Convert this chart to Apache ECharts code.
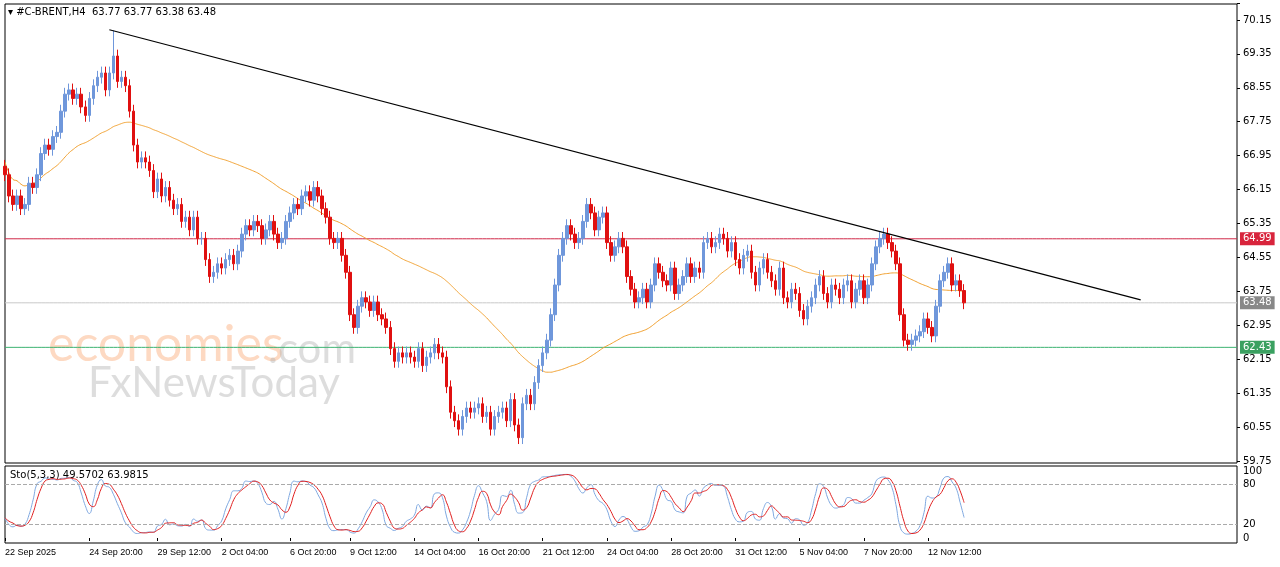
<!DOCTYPE html>
<html>
<head>
<meta charset="utf-8">
<script src="https://cdn.jsdelivr.net/npm/echarts@6/dist/echarts.min.js"></script>
<style>
html,body{margin:0;padding:0;background:#fff;}
#chart{width:1280px;height:567px;}
</style>
</head>
<body>
<div id="chart"></div>
<script>
// closes per H4 bar
var closes = [
  66.5,66.0,65.8,66.0,65.7,65.8,66.3,66.2,66.5,67.0,
  67.2,67.1,67.4,67.5,68.0,68.4,68.5,68.3,68.4,68.1,
  67.9,68.3,68.6,68.8,68.9,68.5,68.9,69.3,68.7,68.8,
  68.6,68.0,67.2,66.8,66.9,66.8,66.6,66.1,66.4,66.0,
  66.2,65.9,65.7,65.8,65.4,65.5,65.2,65.5,65.0,65.0,
  64.5,64.1,64.2,64.4,64.3,64.5,64.6,64.4,64.7,65.1,
  65.3,65.2,65.4,65.3,65.0,65.2,65.4,65.1,64.9,65.0,
  65.4,65.6,65.8,65.7,66.0,66.1,65.9,66.2,66.0,65.7,
  65.5,65.0,64.9,65.0,64.6,64.2,63.2,62.9,63.4,63.6,
  63.5,63.3,63.5,63.2,63.1,62.9,62.4,62.1,62.3,62.2,
  62.3,62.2,62.1,62.4,62.0,62.2,62.3,62.5,62.3,62.2,
  61.5,60.9,60.7,60.5,60.8,61.0,60.9,61.0,61.1,60.8,
  60.9,60.5,60.8,60.9,61.0,60.7,61.2,60.6,60.3,61.1,
  61.3,61.1,61.6,62.0,62.3,62.6,63.2,63.9,64.6,65.0,
  65.3,65.1,64.9,65.0,65.4,65.8,65.6,65.2,65.5,65.6,
  64.9,64.6,64.8,65.0,64.8,64.1,63.8,63.5,63.6,63.8,
  63.5,63.9,64.4,64.2,64.0,63.9,64.3,63.7,63.9,64.1,
  64.4,64.1,64.3,64.2,64.9,65.0,64.8,64.9,65.1,65.0,
  64.7,64.9,64.5,64.3,64.6,64.7,64.2,63.9,64.3,64.5,
  64.2,64.0,63.8,64.3,63.6,63.5,63.8,63.7,63.3,63.1,
  63.4,63.6,63.9,64.1,63.7,63.5,63.9,63.8,63.6,63.9,
  64.0,63.5,63.8,64.0,63.6,63.9,64.4,64.8,65.0,65.1,
  64.9,64.7,64.4,63.2,62.6,62.5,62.6,62.7,62.8,63.1,
  62.9,62.7,63.4,64.0,64.2,64.4,63.9,64.0,63.77,63.48
];
var firstOpen = 66.7;
var wick = 0.15;
var totalBars = 308;
var dateLabels = {0:'22 Sep 2025',21:'24 Sep 20:00',38:'29 Sep 12:00',54:'2 Oct 04:00',71:'6 Oct 20:00',
  86:'9 Oct 12:00',102:'14 Oct 04:00',118:'16 Oct 20:00',134:'21 Oct 12:00',150:'24 Oct 04:00',
  166:'28 Oct 20:00',182:'31 Oct 12:00',198:'5 Nov 04:00',214:'7 Nov 20:00',230:'12 Nov 12:00'};
var priceTicks = {min:59.75, max:70.55, step:0.8};
var levels = {resist:64.99, support:62.43, last:63.48};
var trendLine = [[26,69.92],[283,63.55]];

var cats = [], candles = [], ma = [], highs = [], lows = [];
for (var i = 0; i < totalBars; i++) cats.push(dateLabels[i] || '');
for (var i = 0; i < closes.length; i++) {
  var o = i === 0 ? firstOpen : closes[i-1], c = closes[i];
  var h = Math.max(o,c) + wick, l = Math.min(o,c) - wick;
  if (i === 27) h = 69.9;
  highs.push(h); lows.push(l);
  candles.push([o,c,l,h]);
  var s = Math.max(0,i-49), sum = 0;
  for (var j = s; j <= i; j++) sum += closes[j];
  ma.push(+(sum/(i-s+1) + (i < 50 ? 0.3*(50-i)/50 : 0)).toFixed(3));
}
// stochastic 5,3,3
var rawK = [], k = [], d = [];
for (var i = 0; i < closes.length; i++) {
  var s = Math.max(0,i-4), hh = -1e9, ll = 1e9;
  for (var j = s; j <= i; j++) { hh = Math.max(hh,highs[j]); ll = Math.min(ll,lows[j]); }
  rawK.push({num: closes[i]-ll, den: hh-ll});
}
for (var i = 0; i < closes.length; i++) {
  var n = 0, dd = 0;
  for (var j = Math.max(0,i-2); j <= i; j++) { n += rawK[j].num; dd += rawK[j].den; }
  k.push(dd ? +(100*n/dd).toFixed(2) : 50);
}
for (var i = 0; i < k.length; i++) {
  var sm = 0, cnt = 0;
  for (var j = Math.max(0,i-2); j <= i; j++) { sm += k[j]; cnt++; }
  d.push(+(sm/cnt).toFixed(2));
}

var chart = echarts.init(document.getElementById('chart'));
var font = 'DejaVu Sans';

// horizontal level: a flat line across every category plus a price tag on the axis
function levelSeries(val, color, bg) {
  var flat = [];
  for (var i = 0; i < totalBars; i++) flat.push(val);
  return {type:'line', xAxisIndex:0, yAxisIndex:0, data:flat, showSymbol:false, silent:true,
    lineStyle:{color:color, width:1}, z:1,
    markPoint:{symbol:'rect', symbolSize:0, silent:true,
      label:{show:true, position:'right', distance:3, formatter: val.toFixed(2), color:'#fff', backgroundColor:bg,
        padding:[2,3,1,3], fontSize:10, fontFamily:font},
      data:[{coord:[totalBars-1, val]}]}};
}

chart.setOption({
  animation:false,
  textStyle:{fontFamily:font},
  graphic:[
    {type:'text', left:8, top:7, style:{text:'▾ #C-BRENT,H4  63.77 63.77 63.38 63.48', font:'10px DejaVu Sans', fill:'#000'}},
    {type:'text', left:10, top:470, style:{text:'Sto(5,3,3) 49.5702 63.9815', font:'10px DejaVu Sans', fill:'#000'}},
    {type:'text', left:48, top:320, z:-1, style:{text:'economies', font:'50px Lato', fill:'rgba(250,170,120,0.45)'}},
    {type:'text', left:268, top:328, z:-1, style:{text:'.com', font:'42px Lato', fill:'rgba(180,180,180,0.45)'}},
    {type:'text', left:88, top:362, z:-1, style:{text:'FxNewsToday', font:'42px Lato', fill:'rgba(170,170,170,0.4)'}},
    {type:'rect', shape:{x:5,y:4,width:1232,height:459}, style:{fill:'none', stroke:'#000', lineWidth:1}},
    {type:'rect', shape:{x:5,y:466,width:1232,height:77}, style:{fill:'none', stroke:'#000', lineWidth:1}}
  ],
  grid:[
    {left:5, right:43, top:3, bottom:106},
    {left:5, right:43, top:471, bottom:29}
  ],
  xAxis:[
    {type:'category', data:cats, gridIndex:0, boundaryGap:false, axisLine:{show:false}, axisTick:{show:false}, axisLabel:{show:false}},
    {type:'category', data:cats, gridIndex:1, boundaryGap:false, axisLine:{show:false},
      axisTick:{show:true, interval:function(i,v){return v!=='';}, length:3, lineStyle:{color:'#000'}},
      axisLabel:{interval:0, color:'#000', fontSize:9, align:'left', margin:10, fontFamily:'Liberation Sans'}}
  ],
  yAxis:[
    {type:'value', gridIndex:0, position:'right', min:priceTicks.min, max:priceTicks.max, interval:priceTicks.step,
      splitLine:{show:false}, axisLine:{show:false}, axisTick:{show:true, length:3, lineStyle:{color:'#000'}},
      axisLabel:{color:'#000', fontSize:10, margin:6, formatter:function(v){return v>70.2?'':v.toFixed(2);}}},
    {type:'value', gridIndex:1, position:'right', min:0, max:100, interval:20,
      splitLine:{show:false}, axisLine:{show:false}, axisTick:{show:false},
      axisLabel:{color:'#000', fontSize:10, margin:6, formatter:function(v){return (v===0||v===20||v===80||v===100)?v:'';}}}
  ],
  series:[
    levelSeries(levels.resist,'#d02848','#d8243c'),
    levelSeries(levels.support,'#3cb371','#3aa060'),
    levelSeries(levels.last,'#c8c8c8','#888'),
    {type:'candlestick', xAxisIndex:0, yAxisIndex:0, data:candles, barWidth:3, z:3,
      itemStyle:{color:'#6f97db', color0:'#e01010', borderColor:'#6f97db', borderColor0:'#e01010', borderWidth:1},
      markLine:{symbol:'none', silent:true, lineStyle:{color:'#000', width:1.2, type:'solid'}, label:{show:false},
        data:[[{coord:trendLine[0]}, {coord:trendLine[1]}]]}},
    {type:'line', xAxisIndex:0, yAxisIndex:0, data:ma, showSymbol:false, smooth:true, z:2, lineStyle:{color:'#f0a030', width:1}},
    {type:'line', xAxisIndex:1, yAxisIndex:1, data:k, showSymbol:false, smooth:true, lineStyle:{color:'#7fa8e0', width:1},
      markLine:{symbol:'none', silent:true, label:{show:false}, lineStyle:{color:'#aaa', type:'dashed', width:1},
        data:[{yAxis:80},{yAxis:20}]}},
    {type:'line', xAxisIndex:1, yAxisIndex:1, data:d, showSymbol:false, smooth:true, lineStyle:{color:'#e02020', width:1}}
  ]
});
</script>
</body>
</html>
